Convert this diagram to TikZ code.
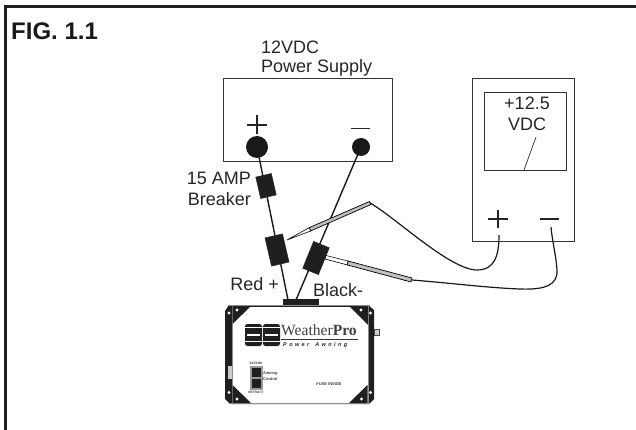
\documentclass[tikz,border=0pt]{standalone}
\usepackage{fontspec}
\setmainfont{Liberation Sans}
\newfontfamily\serifw{Liberation Serif}
\newcommand{\fs}[1]{\fontsize{#1}{#1}\selectfont}
\tikzset{
  lbl/.style={inner sep=0pt,font=\fs{18},text=black!85},
  wire/.style={line width=1.4pt,black!90},
  clipbox/.style={fill=black!88,draw=black!88,inner sep=0pt},
  thin box/.style={draw=black!80,line width=1pt},
  tiny/.style={inner sep=0pt,font=\fs{4}\bfseries,text=black!75},
  probe/.style={draw=black,fill=black!25,line width=.7pt},
  panelcorner/.style={fill=black!88,draw=none}
}
\begin{document}
\begin{tikzpicture}[x=1pt,y=-1pt]
\useasboundingbox (0,0) rectangle (636,430);
\draw[black!88,line width=2.6pt] (5.7,430) -- (5.7,6.3) -- (636,6.3);
\node[anchor=base west,inner sep=0pt,font=\fs{24}\bfseries,text=black!90] (fig) at (11,40) {FIG. 1.1};
% supply
\node[thin box,minimum width=169pt,minimum height=83pt,inner sep=0,anchor=north west] (psu) at (223,78) {};
\node[lbl,anchor=west] (t1) at (261,47) {12VDC};
\node[lbl,anchor=west] (t2) at (261,68) {Power Supply};
\node[circle,fill=black!90,minimum size=22pt,inner sep=0] (pp) at (257,147) {};
\node[circle,fill=black!90,minimum size=18pt,inner sep=0] (pm) at (361,147) {};
\draw[line width=1.1pt,black!85] (247,125) -- (267,125) (257,115) -- (257,134);
\draw[line width=1.1pt,black!85] (351,128.5) -- (370,128.5);
% device connector and wires
\coordinate (dp) at (288,300);
\coordinate (dm) at (296,300);
\draw[wire] (pp.center) -- (dp);
\draw[wire] (pm.center) -- (dm);
\node[clipbox,minimum width=16pt,minimum height=22pt,rotate=13] (brk) at (266,186) {};
\node[clipbox,minimum width=18pt,minimum height=29pt,rotate=13] (cp) at (277,250) {};
\node[clipbox,minimum width=17pt,minimum height=29pt,rotate=-22] (cm) at (316,258) {};
\node[lbl,anchor=east] (a1) at (251,178) {15 AMP};
\node[lbl,anchor=east] (a2) at (251,199) {Breaker};
\node[lbl,anchor=east] (red) at (279,284) {Red +};
\node[lbl,anchor=west] (blk) at (313,290) {Black-};
% probes
\coordinate (p1a) at (287,240);
\coordinate (p1b) at (309,229);
\coordinate (p1c) at (370,203);
\coordinate (p1d) at (499,235);
\draw[probe,line width=.6pt,fill=white] (p1a) -- (309.5,227.5) -- (310.5,231) -- cycle;
\draw[probe] (309.5,227.5) -- (369.5,201.5) -- (371,204.5) -- (310.5,231) -- cycle;
\draw[wire,line width=1.2pt] (p1c) .. controls (395,217) and (450,270) .. (477,270) .. controls (495,270) and (499,255) .. (p1d);
\coordinate (p2a) at (327,256.5);
\coordinate (p2b) at (348,263);
\coordinate (p2c) at (412,280);
\coordinate (p2d) at (551,227);
\draw[black,line width=.6pt,fill=white] (326,255.5) -- (348,261) -- (347.5,265) -- (325,259) -- cycle;
\draw[probe] (348,261) -- (412,278) -- (411,282) -- (347.5,265) -- cycle;
\draw[wire,line width=1.2pt] (p2c) .. controls (450,283) and (490,288) .. (520,289) .. controls (545,290) and (558,285) .. (557,270) .. controls (556,255) and (552,240) .. (p2d);
% meter
\node[thin box,minimum width=102pt,minimum height=163pt,inner sep=0,anchor=north west] (mtr) at (472,78) {};
\node[thin box,minimum width=82pt,minimum height=78pt,inner sep=0,anchor=north west] (scr) at (484,92) {};
\node[lbl] (v1) at (527,103) {+12.5};
\node[lbl] (v2) at (527,124) {VDC};
\coordinate (n1) at (536,137);
\coordinate (n2) at (524,170);
\draw[line width=.7pt,black!85] (n1) -- (n2);
\draw[line width=1.1pt,black!85] (488,219) -- (508,219) (498,210) -- (498,228);
\draw[line width=1.1pt,black!85] (540,219) -- (559,219);
% device
\fill[black!88] (283,299) rectangle (319,306);
\draw[black!70,fill=black!20,line width=.5pt] (374,329) rectangle (379,335.5);
\fill[black!88] (229,305) -- (368,305) -- (374,310) -- (374,399) -- (369,404) -- (230,404) -- (225,399) -- (225,311) -- cycle;
\fill[white] (232.5,306.5) rectangle (367.5,402.5);
\draw[black!45,line width=.8pt] (228,305.5) -- (370,305.5) (229,403.5) -- (370,403.5) (232,305.5) -- (232,403.5) (368,305.5) -- (368,403.5);
\fill[panelcorner] (232.5,306) -- (251,306) -- (232.5,324) -- cycle;
\fill[panelcorner] (349,306) -- (368,306) -- (368,325) -- cycle;
\fill[panelcorner] (232.5,385) -- (251,403) -- (232.5,403) -- cycle;
\fill[panelcorner] (349,403) -- (367.5,385) -- (367.5,403) -- cycle;
\fill[black!20] (227.5,366) rectangle (232,379);
\foreach \p in {(237,310),(361,310),(237,399),(361.5,399),(229,313),(370.5,313),(229,392.5),(370.5,392.5)}
  \fill[white] \p circle (1.6);
% logo
\fill[black!88,rounded corners=2.5pt] (245,324) rectangle (262,346);
\fill[black!88,rounded corners=2.5pt] (263,324) rectangle (280,346);
\fill[white] (247,333.5) rectangle (260,335.5);
\fill[white] (265,333.5) rectangle (278,335.5);
\fill[white] (245,327) rectangle (262,328);
\fill[white] (263,327) rectangle (280,328);
\fill[white] (245,341) rectangle (262,342);
\fill[white] (263,341) rectangle (280,342);
\node[anchor=base west,inner sep=0,font=\serifw\fs{15.6},text=black!75] (wp) at (281,335.5) {Weather\textbf{Pro}};
\draw[black!80,line width=.7pt] (281,339) -- (358,339);
\node[anchor=base west,inner sep=0,font=\fs{5.5}\bfseries\itshape,text=black!85] (pa) at (283,346) {P\hspace{2.4pt}o\hspace{2.4pt}w\hspace{2.4pt}e\hspace{2.4pt}r\hspace{6pt}A\hspace{2.4pt}w\hspace{2.4pt}n\hspace{2.4pt}i\hspace{2.4pt}n\hspace{2.4pt}g};
% switch
\draw[black!40,fill=black!40] (250,366) rectangle (262,389);
\fill[black!88] (251.5,367.5) rectangle (261,377);
\fill[black!88] (251.5,379) rectangle (261,388);
\node[tiny,font=\fs{3.2}\bfseries] (ext) at (256,363.5) {EXTEND};
\node[tiny,font=\fs{3.2}\bfseries] (ret) at (256,392.5) {RETRACT};
\node[tiny,anchor=west] (ac1) at (263,373.5) {Awning};
\node[tiny,anchor=west] (ac2) at (263,379) {Control};
\node[tiny] (fuse) at (329,384.5) {FUSE INSIDE};
\end{tikzpicture}
\end{document}
